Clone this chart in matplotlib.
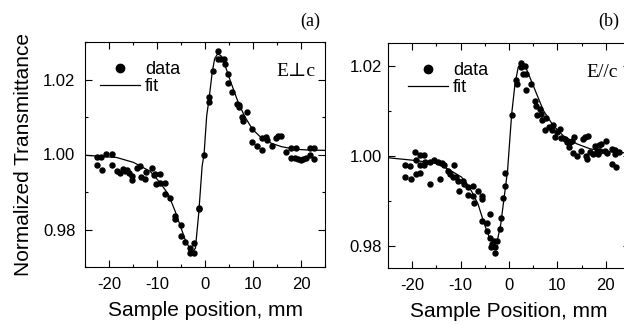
import numpy as np
import matplotlib
matplotlib.use('Agg')
from matplotlib import pyplot as plt
from matplotlib.lines import Line2D
from matplotlib.ticker import MultipleLocator

plt.rcParams['font.family'] = ['Liberation Sans', 'DejaVu Sans']

# ---------- DATA -----------------------------------------------------------
# (a) E perp c
xa = [-22.6, -21.7, -20.6, -19.4, -22.4, -21.5, -19.4, -18.4, -17.7, -17.1,
      -16.7, -16.3, -15.9, -15.2, -15.2, -14.2, -13.5, -13.3, -12.4, -12.2,
      -11.0, -10.7, -10.4, -9.3, -10.2, -9.3, -8.4, -8.4, -7.3, -6.2,
      -6.2, -5.1, -5.1, -4.1, -3.2, -3.2, -2.3, -2.2, -1.3, -1.3,
      -0.2, 0.84, 0.84, 1.75, 2.73, 2.73, 3.3, 4.0, 4.2, 4.7,
      4.7, 5.7, 6.6, 7.0, 7.0, 7.8, 8.0, 8.7, 9.7, 9.7,
      10.8, 11.9, 11.9, 12.7, 12.9, 13.9, 14.8, 15.3, 15.9, 16.9,
      18.0, 18.0, 19.0, 18.7, 19.4, 19.9, 20.4, 21.1, 21.8, 22.7,
      21.8, 22.7]
ya = [0.9994, 0.9994, 1.0002, 1.0001, 0.9971, 0.9960, 0.9971, 0.9955, 0.9950, 0.9961,
      0.9955, 0.9960, 0.9950, 0.9943, 0.9931, 0.9963, 0.9970, 0.9940, 0.9936, 0.9953,
      0.9963, 0.9946, 0.9948, 0.9948, 0.9921, 0.9924, 0.9924, 0.9895, 0.9884, 0.9837,
      0.9828, 0.9812, 0.9783, 0.9767, 0.9751, 0.9738, 0.9738, 0.9763, 0.9858, 0.9854,
      0.9999, 1.0152, 1.0140, 1.0222, 1.0276, 1.0254, 1.0256, 1.0256, 1.0242, 1.0215,
      1.0190, 1.0166, 1.0135, 1.0126, 1.0133, 1.0100, 1.0090, 1.0114, 1.0067, 1.0033,
      1.0022, 1.0011, 1.0043, 1.0047, 1.0038, 1.0024, 1.0044, 1.0049, 1.0049, 1.0007,
      1.0018, 0.9991, 1.0018, 0.9991, 0.9989, 0.9985, 0.9988, 0.9991, 1.0018, 1.0018,
      0.9999, 0.9989]
fit_xa = [-25.0, -18.4, -14.9, -11.4, -9.3, -7.6, -6.2, -5.1, -4.1, -3.0,
          -2.6, -2.0, -1.3, -0.6, -0.2, 0.35, 0.84, 1.5, 2.0, 2.6,
          3.3, 4.3, 5.4, 6.8, 8.2, 9.9, 11.7, 13.8, 15.9, 18.7,
          21.5, 25.0]
fit_ya = [0.9998, 0.9992, 0.9979, 0.9955, 0.9924, 0.9893, 0.9848, 0.9808, 0.9772, 0.9745,
          0.9741, 0.9750, 0.9844, 0.9969, 1.0000, 1.0103, 1.0148, 1.0219, 1.0255, 1.0268,
          1.0264, 1.0233, 1.0192, 1.0143, 1.0103, 1.0067, 1.0045, 1.0030, 1.0021, 1.0014,
          1.0012, 1.0011]

# (b) E // c
xb = [-21.4, -20.5, -21.4, -20.3, -19.5, -18.4, -17.5, -19.3, -18.4, -19.3,
      -18.4, -17.5, -17.3, -16.4, -15.5, -14.6, -13.9, -13.4, -16.4, -14.3,
      -12.6, -11.3, -12.2, -11.5, -10.9, -10.5, -9.5, -9.3, -10.4, -8.5,
      -8.5, -7.5, -7.5, -7.3, -6.5, -5.5, -5.5, -5.6, -4.6, -4.6,
      -4.0, -4.0, -3.8, -3.5, -3.1, -2.8, -2.8, -2.4, -1.9, -1.7,
      -1.2, -0.9, -0.9,
      0.55, 1.4, 1.7, 2.4, 2.4, 2.8, 3.3, 3.5, 4.5, 3.5,
      5.4, 5.6, 6.4, 5.8, 6.7, 6.9, 7.6, 7.4, 8.3, 8.8,
      9.1, 9.5, 9.9, 10.5, 10.7, 11.5, 11.9, 12.4, 12.6, 13.1,
      13.4, 13.3, 14.1, 14.8, 15.3, 16.0, 15.7, 16.4, 16.2, 16.8,
      17.4, 17.7, 18.1, 18.4, 18.8, 18.6, 19.1, 19.8, 20.1, 20.3,
      21.2, 21.9, 21.9, 21.2, 22.2, 22.8]
yb = [0.9980, 0.9976, 0.9953, 0.9948, 1.0007, 1.0001, 1.0001, 0.9990, 0.9978, 0.9959,
      0.9961, 0.9979, 0.9985, 0.9985, 0.9990, 0.9985, 0.9983, 0.9978, 0.9937, 0.9948,
      0.9966, 0.9978, 0.9958, 0.9952, 0.9953, 0.9944, 0.9944, 0.9937, 0.9922, 0.9930,
      0.9913, 0.9933, 0.9911, 0.9894, 0.9922, 0.9911, 0.9903, 0.9855, 0.9849, 0.9833,
      0.9869, 0.9817, 0.9796, 0.9803, 0.9811, 0.9796, 0.9783, 0.9811, 0.9837, 0.9861,
      0.9905, 0.9933, 0.9961,
      1.0089, 1.0168, 1.0159, 1.0205, 1.0196, 1.0182, 1.0200, 1.0181, 1.0159, 1.0146,
      1.0121, 1.0109, 1.0104, 1.0089, 1.0093, 1.0078, 1.0084, 1.0057, 1.0063, 1.0056,
      1.0067, 1.0041, 1.0052, 1.0059, 1.0039, 1.0037, 1.0030, 1.0020, 1.0030, 1.0033,
      1.0041, 1.0005, 1.0000, 1.0011, 1.0037, 1.0000, 1.0042, 1.0044, 0.9993, 1.0007,
      1.0004, 1.0022, 1.0011, 1.0004, 1.0011, 1.0024, 1.0025, 1.0011, 1.0033, 1.0005,
      1.0015, 1.0013, 1.0004, 0.9981, 0.9974, 1.0008]
fit_xb = [-25.0, -19.4, -15.3, -12.6, -9.8, -7.8, -6.4, -5.1, -4.1, -3.1,
          -2.4, -1.7, -1.0, -0.3, 0.55, 1.24, 1.9, 2.6, 3.3, 4.3,
          5.7, 7.1, 9.1, 11.2, 14.0, 16.7, 20.1, 25.0]
fit_yb = [0.9995, 0.9989, 0.9983, 0.9970, 0.9952, 0.9922, 0.9892, 0.9848, 0.9819, 0.9811,
          0.9811, 0.9848, 0.9907, 0.9966, 1.0092, 1.0159, 1.0196, 1.0207, 1.0200, 1.0174,
          1.0137, 1.0100, 1.0067, 1.0044, 1.0026, 1.0015, 1.0009, 1.0005]

W, H = 624, 324
fig = plt.figure(figsize=(W / 100, H / 100), dpi=100)
axa = fig.add_axes([85 / W, 1 - 267 / H, 240 / W, 225 / H])
axb = fig.add_axes([388 / W, 1 - 268 / H, 242 / W, 225 / H])


def style(ax, ylim, ypad):
    ax.set_xlim(-25, 25)
    ax.set_ylim(*ylim)
    ax.xaxis.set_major_locator(MultipleLocator(10))
    ax.xaxis.set_minor_locator(MultipleLocator(5))
    ax.yaxis.set_major_locator(MultipleLocator(0.02))
    ax.yaxis.set_minor_locator(MultipleLocator(0.01))
    ax.set_yticks([0.98, 1.00, 1.02])
    ax.yaxis.set_major_formatter(plt.FormatStrFormatter('%.2f'))
    ax.xaxis.set_major_formatter(plt.FormatStrFormatter('%d'))
    ax.tick_params(which='both', direction='in', top=True, right=True,
                   width=0.8, labelsize=12)
    ax.tick_params(axis='x', which='major', pad=7)
    ax.tick_params(axis='y', which='major', pad=ypad)
    ax.tick_params(which='major', length=5)
    ax.tick_params(which='minor', length=2.5)
    for s in ax.spines.values():
        s.set_linewidth(0.8)


for ax, x, y, fx, fy in [(axa, xa, ya, fit_xa, fit_ya), (axb, xb, yb, fit_xb, fit_yb)]:
    ax.plot(fx, fy, '-', color='black', lw=0.9)
    ax.plot(x, y, 'o', color='black', ms=3.6, mec='black')

style(axa, (0.970, 1.030), 7)
style(axb, (0.975, 1.025), 4.5)

handles = [Line2D([], [], ls='none', marker='o', color='black', ms=6),
           Line2D([], [], ls='-', color='black', lw=0.9)]
for ax, ax_x in [(axa, 0.0625), (axb, 0.083)]:
    ax.legend(handles, ['data', 'fit'], loc='upper left', bbox_to_anchor=(ax_x, 0.915),
              frameon=False, fontsize=13, borderpad=0, borderaxespad=0,
              handlelength=2.2, handletextpad=0.3, labelspacing=0.0, numpoints=1)

serif = ['Liberation Serif', 'DejaVu Serif']
axa.text(0.96, 0.87, 'E\u22a5c', transform=axa.transAxes, ha='right', va='center',
         family=serif, fontsize=14)
axb.text(0.95, 0.87, 'E//c', transform=axb.transAxes, ha='right', va='center',
         family=serif, fontsize=14)
fig.text(310 / W, 1 - 21 / H, '(a)', ha='center', va='center', family=serif, fontsize=13)
fig.text(609 / W, 1 - 21 / H, '(b)', ha='center', va='center', family=serif, fontsize=13)

axa.set_xlabel('Sample position, mm', fontsize=15, labelpad=7)
axb.set_xlabel('Sample Position, mm', fontsize=15, labelpad=7)
axa.set_ylabel('Normalized Transmittance', fontsize=15, labelpad=7)

fig.savefig('out.png', dpi=100)
